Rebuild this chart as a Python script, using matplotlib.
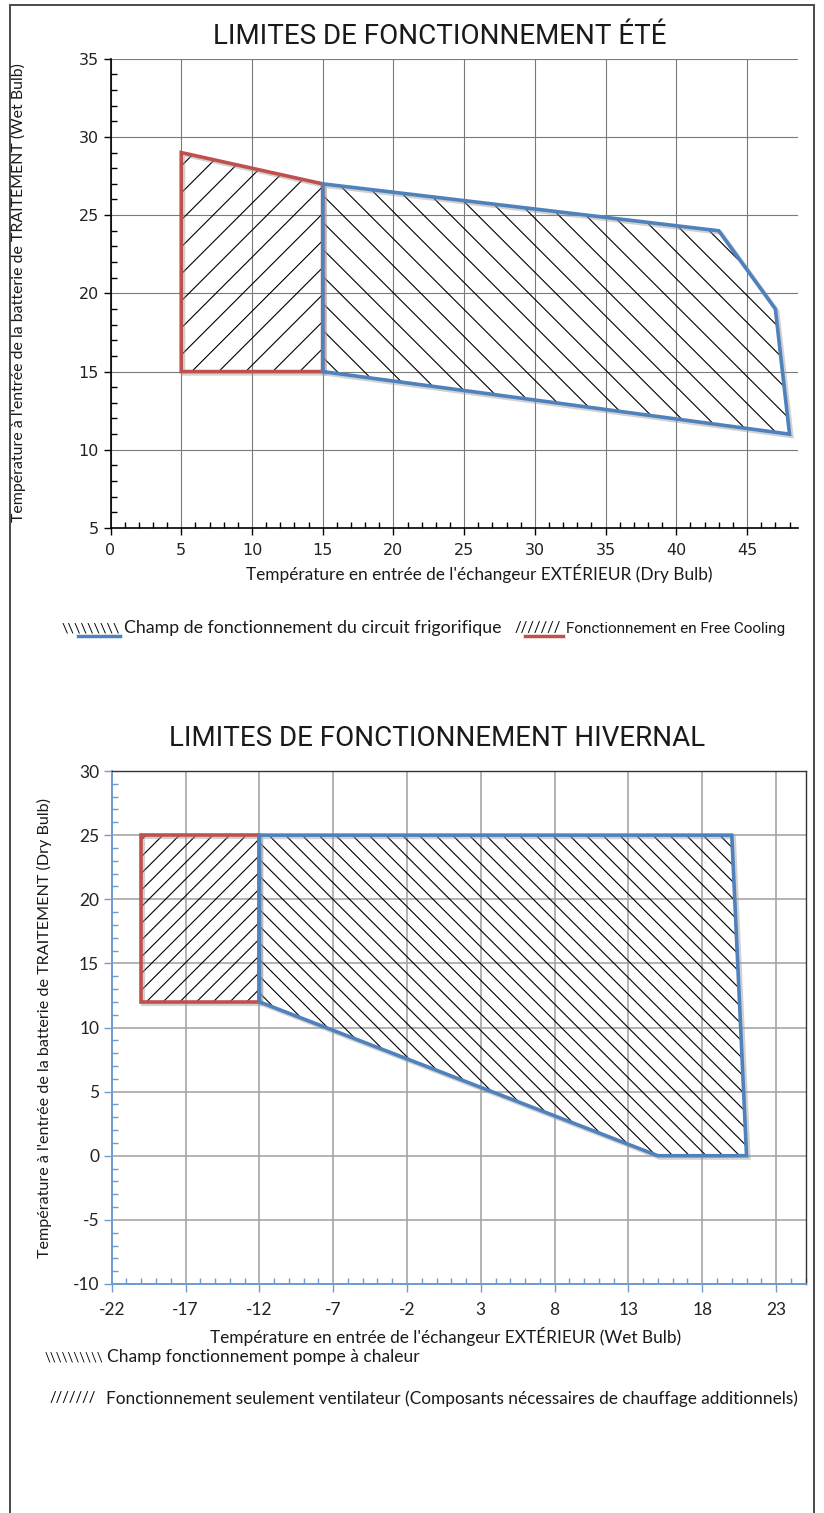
import matplotlib
matplotlib.use("Agg")
import matplotlib.pyplot as plt
import numpy as np
from matplotlib.patches import Polygon, Rectangle
from matplotlib.collections import LineCollection
from matplotlib.lines import Line2D
from matplotlib.transforms import IdentityTransform, offset_copy
from matplotlib.ticker import MultipleLocator

plt.rcParams["axes.unicode_minus"] = False

W, H = 824, 1513

# --- données : limites été ---
ete_xlim = (0, 48.6)
ete_ylim = (5, 35)
ete_xticks = [0, 5, 10, 15, 20, 25, 30, 35, 40, 45]
ete_yticks = [5, 10, 15, 20, 25, 30, 35]
ete_circuit_x = [15, 43, 47, 48, 15]
ete_circuit_y = [27, 24, 19, 11, 15]
ete_free_x = [5, 15, 15, 5]
ete_free_y = [29, 27, 15, 15]

# --- données : limites hiver ---
hiv_xlim = (-22, 25)
hiv_ylim = (-10, 30)
hiv_xticks = [-22, -17, -12, -7, -2, 3, 8, 13, 18, 23]
hiv_yticks = [-10, -5, 0, 5, 10, 15, 20, 25, 30]
hiv_pac_x = [-12, 20, 21, 15, -12]
hiv_pac_y = [25, 25, 0, 0, 12]
hiv_vent_x = [-20, -12, -12, -20]
hiv_vent_y = [25, 25, 12, 12]

BLEU = "#4f81bd"
ROUGE = "#c0504d"
AXE_BLEU = "#6f9bd1"
ROBOTO = ["Roboto", "DejaVu Sans"]
LATO = ["Lato", "DejaVu Sans"]
TXT = "#1a1a1a"


def px(x, y):
    # pixels (origine en haut a gauche) -> fraction de figure
    return x / W, 1 - y / H


def axes_px(left, top, right, bottom):
    return [left / W, 1 - bottom / H, (right - left) / W, (bottom - top) / H]


def zone(ax, xs, ys, color, spacing, sens):
    poly = Polygon(list(zip(xs, ys)), closed=True, fill=False, ec="none")
    ax.add_patch(poly)
    pts = ax.transData.transform(poly.get_xy())
    x0, y0 = pts.min(axis=0) - 2
    x1, y1 = pts.max(axis=0) + 2
    segs = []
    if sens == "/":
        for c in np.arange(y0 - x1, y1 - x0, spacing):
            segs.append([(x0, x0 + c), (x1, x1 + c)])
    else:
        for c in np.arange(y0 + x0, y1 + x1, spacing):
            segs.append([(x0, c - x0), (x1, c - x1)])
    lc = LineCollection(segs, colors="black", linewidths=0.8,
                        transform=IdentityTransform(), zorder=3)
    ax.add_collection(lc, autolim=False)
    lc.set_clip_path(poly)
    # ombre + contour
    sh = offset_copy(ax.transData, fig=ax.figure, x=2, y=-2, units="dots")
    ax.add_patch(Polygon(list(zip(xs, ys)), closed=True, fill=False, ec="#9a9a9a",
                         lw=3, alpha=0.45, transform=sh, zorder=3.5, joinstyle="miter"))
    ax.add_patch(Polygon(list(zip(xs, ys)), closed=True, fill=False, ec=color,
                         lw=2.6, zorder=4, joinstyle="miter"))


fig = plt.figure(figsize=(W / 100, H / 100), dpi=100)

# cadre
fig.add_artist(Rectangle(px(10, H + 5), 804 / W, (H) / H, transform=fig.transFigure,
                         fill=False, ec="#4a4a4a", lw=1.4))

# ---------------- ÉTÉ ----------------
ax1 = fig.add_axes(axes_px(110.5, 58.7, 798, 528))
ax1.set_xlim(*ete_xlim)
ax1.set_ylim(*ete_ylim)
ax1.set_xticks(ete_xticks)
ax1.set_yticks(ete_yticks)
ax1.xaxis.set_minor_locator(MultipleLocator(1))
ax1.yaxis.set_minor_locator(MultipleLocator(1))
ax1.set_axisbelow(True)
ax1.grid(which="major", color="#7a7a7a", lw=0.8)
for s in ["top", "right"]:
    ax1.spines[s].set_visible(False)
for s in ["left", "bottom"]:
    ax1.spines[s].set_color("black")
    ax1.spines[s].set_linewidth(1.2)
ax1.tick_params(which="major", direction="out", length=5, width=1, color="black",
                labelsize=11.5, labelcolor="#222222")
ax1.tick_params(which="minor", direction="in", length=4, width=1, color="black")
ax1.tick_params(axis="x", pad=6)

zone(ax1, ete_free_x, ete_free_y, ROUGE, 27, "/")
zone(ax1, ete_circuit_x, ete_circuit_y, BLEU, 27, "\\")

fig.text(*px(440, 37), "LIMITES DE FONCTIONNEMENT ÉTÉ", family=ROBOTO, fontsize=20,
         ha="center", va="center", color=TXT)
fig.text(*px(479, 574), "Température en entrée de l'échangeur EXTÉRIEUR (Dry Bulb)",
         family=LATO, fontsize=12.4, ha="center", va="center", color=TXT)
fig.text(*px(18, 293), "Température à l'entrée de la batterie de TRAITEMENT (Wet Bulb)",
         family=LATO, fontsize=11.4, ha="center", va="center", rotation=90, color=TXT)

# légende été
fig.text(*px(62, 628), "\\" * 9, family=LATO, fontsize=10.3, ha="left", va="center")
fig.add_artist(Line2D([78 / W, 120 / W], [1 - 636 / H] * 2, color=BLEU, lw=2.5))
fig.text(*px(124, 628), "Champ de fonctionnement du circuit frigorifique", family=LATO,
         fontsize=12.8, ha="left", va="center", color=TXT)
fig.text(*px(515, 628), "/" * 7, family=LATO, fontsize=10.5, ha="left", va="center")
fig.add_artist(Line2D([525 / W, 563 / W], [1 - 636 / H] * 2, color=ROUGE, lw=2.5))
fig.text(*px(566, 629), "Fonctionnement en Free Cooling", family=ROBOTO,
         fontsize=11, ha="left", va="center", color=TXT)

# ---------------- HIVER ----------------
ax2 = fig.add_axes(axes_px(111.7, 771, 805.6, 1284))
ax2.set_xlim(*hiv_xlim)
ax2.set_ylim(*hiv_ylim)
ax2.set_xticks(hiv_xticks)
ax2.set_yticks(hiv_yticks)
ax2.xaxis.set_minor_locator(MultipleLocator(1))
ax2.yaxis.set_minor_locator(MultipleLocator(1))
ax2.set_axisbelow(True)
ax2.grid(which="major", color="#a6a6a6", lw=1.2)
for s in ["top", "right"]:
    ax2.spines[s].set_color("#333333")
    ax2.spines[s].set_linewidth(1.0)
for s in ["left", "bottom"]:
    ax2.spines[s].set_color(AXE_BLEU)
    ax2.spines[s].set_linewidth(1.4)
ax2.tick_params(which="major", direction="out", length=6, width=1, color=AXE_BLEU,
                labelsize=12.5, labelcolor="#222222")
ax2.tick_params(which="minor", direction="in", length=4, width=1, color=AXE_BLEU)
for lab in ax2.get_xticklabels() + ax2.get_yticklabels():
    lab.set_family(LATO)
ax2.tick_params(axis="x", pad=7)
ax2.tick_params(axis="y", pad=3)

zone(ax2, hiv_vent_x, hiv_vent_y, ROUGE, 16.7, "/")
zone(ax2, hiv_pac_x, hiv_pac_y, BLEU, 16.7, "\\")

fig.text(*px(437, 738), "LIMITES DE FONCTIONNEMENT HIVERNAL", family=ROBOTO, fontsize=20,
         ha="center", va="center", color=TXT)
fig.text(*px(446, 1337), "Température en entrée de l'échangeur EXTÉRIEUR (Wet Bulb)",
         family=LATO, fontsize=12.4, ha="center", va="center", color=TXT)
fig.text(*px(44, 1028), "Température à l'entrée de la batterie de TRAITEMENT (Dry Bulb)",
         family=LATO, fontsize=11.6, ha="center", va="center", rotation=90, color=TXT)

# légende hiver
fig.text(*px(45, 1357), "\\" * 10, family=LATO, fontsize=9.3, ha="left", va="center")
fig.text(*px(107, 1357), "Champ fonctionnement pompe à chaleur", family=LATO,
         fontsize=12.5, ha="left", va="center", color=TXT)
fig.text(*px(50, 1398), "/" * 7, family=LATO, fontsize=10.5, ha="left", va="center")
fig.text(*px(106, 1399),
         "Fonctionnement seulement ventilateur (Composants nécessaires de chauffage additionnels)",
         family=LATO, fontsize=12.4, ha="left", va="center", color=TXT)

fig.savefig("out.png", dpi=100, facecolor="white")
